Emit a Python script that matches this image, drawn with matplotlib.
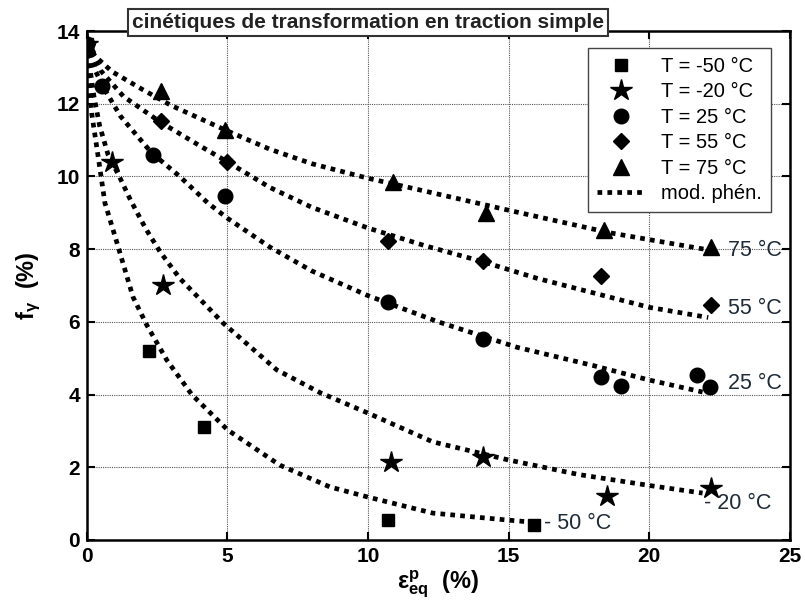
import matplotlib.pyplot as plt
import numpy as np

plt.rcParams['font.family'] = ['Liberation Sans', 'DejaVu Sans']
plt.rcParams['mathtext.default'] = 'regular'

# measured points (eps_eq in %, f_gamma in %)
x_m50 = [0, 2.2, 4.15, 10.7, 15.9]
y_m50 = [13.65, 5.2, 3.1, 0.55, 0.41]
x_m20 = [0, 0.9, 2.7, 10.8, 14.1, 18.5, 22.2]
y_m20 = [13.65, 10.4, 7.0, 2.15, 2.28, 1.2, 1.43]
x_25 = [0, 0.55, 2.35, 4.9, 10.7, 14.1, 18.3, 19.0, 21.7, 22.15]
y_25 = [13.65, 12.5, 10.6, 9.47, 6.55, 5.53, 4.48, 4.24, 4.54, 4.2]
x_55 = [0, 2.63, 4.98, 10.7, 14.1, 18.3, 22.2]
y_55 = [13.65, 11.52, 10.4, 8.22, 7.67, 7.26, 6.46]
x_75 = [0, 2.63, 4.9, 10.9, 14.2, 18.4, 22.2]
y_75 = [13.65, 12.35, 11.28, 9.85, 8.99, 8.53, 8.06]

# phenomenological model curves
mx_m50 = [0, 0.05, 0.17, 0.4, 0.64, 1.07, 1.64, 2.13, 2.84, 3.73, 5.0, 6.86, 8.64, 10.0, 12.3, 14.94, 15.7]
my_m50 = [13.65, 12.8, 11.73, 10.54, 9.27, 8.17, 6.68, 5.91, 4.95, 4.0, 3.03, 2.06, 1.46, 1.18, 0.74, 0.55, 0.5]
mx_m20 = [0, 0.1, 0.25, 0.45, 0.75, 1.15, 1.55, 2.1, 2.6, 3.3, 4.84, 6.75, 8.3, 10.0, 12.3, 15.0, 17.5, 20.0, 21.9]
my_m20 = [13.65, 13.0, 12.2, 11.4, 10.6, 10.0, 9.35, 8.55, 7.93, 7.2, 5.97, 4.68, 4.05, 3.49, 2.7, 2.2, 1.8, 1.5, 1.29]
mx_25 = [0, 0.3, 0.7, 1.2, 2.3, 3.3, 4.3, 5.0, 6.5, 8.0, 10.0, 12.5, 15.3, 18.0, 20.0, 21.9]
my_25 = [13.65, 12.9, 12.3, 11.65, 10.65, 10.0, 9.27, 8.85, 8.06, 7.4, 6.72, 6.0, 5.3, 4.8, 4.4, 4.07]
mx_55 = [0, 0.5, 1.3, 2.6, 4.0, 5.0, 6.5, 8.0, 10.0, 12.0, 14.1, 16.0, 18.0, 20.0, 22.1]
my_55 = [13.65, 12.9, 12.2, 11.5, 10.85, 10.4, 9.7, 9.15, 8.58, 8.1, 7.65, 7.2, 6.8, 6.4, 6.12]
mx_75 = [0, 0.3, 0.9, 2.0, 3.0, 4.0, 5.0, 6.5, 8.0, 10.0, 12.0, 15.0, 18.6, 22.1]
my_75 = [13.65, 13.3, 12.88, 12.38, 11.95, 11.6, 11.25, 10.75, 10.35, 9.95, 9.6, 9.07, 8.45, 7.98]

legend_labels = ['T = -50 °C', 'T = -20 °C', 'T = 25 °C', 'T = 55 °C', 'T = 75 °C', 'mod. phén.']
curve_labels = ['- 50 °C', '- 20 °C', '25 °C', '55 °C', '75 °C']
label_pos = [(16.25, 0.44), (21.95, 1.0), (22.8, 4.3), (22.8, 6.38), (22.8, 7.97)]

fig = plt.figure(figsize=(8.05, 6.02), dpi=100)
ax = fig.add_axes([0.108, 0.103, 0.873, 0.8455])

dot = dict(color='black', lw=3.4, linestyle=(0, (1, 1.1)), dash_capstyle='butt')
for mx, my in [(mx_m50, my_m50), (mx_m20, my_m20), (mx_25, my_25), (mx_55, my_55), (mx_75, my_75)]:
    ax.plot(mx, my, zorder=2, **dot)

ax.plot(x_m50, y_m50, 's', color='black', ms=9, ls='none', zorder=3, label=legend_labels[0])
ax.plot(x_m20, y_m20, '*', color='black', ms=16, ls='none', zorder=4, label=legend_labels[1])
ax.plot(x_25, y_25, 'o', color='black', ms=10.5, ls='none', zorder=3, label=legend_labels[2])
ax.plot(x_55, y_55, 'D', color='black', ms=8.5, ls='none', zorder=3, label=legend_labels[3])
ax.plot(x_75, y_75, '^', color='black', ms=12, ls='none', zorder=3, label=legend_labels[4])
ax.plot([], [], label=legend_labels[5], **dot)

for txt, (tx, ty) in zip(curve_labels, label_pos):
    ax.text(tx, ty, txt, fontsize=15.5, color='#1e2a36', va='center', ha='left')

ax.set_xlim(0, 25)
ax.set_ylim(0, 14)
ax.set_xticks(np.arange(0, 26, 5))
ax.set_yticks(np.arange(0, 15, 2))
ax.grid(True, color='#555555', linestyle=(0, (1, 1)), lw=0.8)
ax.set_axisbelow(True)
ax.tick_params(direction='in', length=6, width=1.5, top=True, right=True,
               labelsize=15, pad=5)
for lab in ax.get_xticklabels() + ax.get_yticklabels():
    lab.set_fontweight('bold')
for sp in ax.spines.values():
    sp.set_linewidth(1.8)

ax.set_xlabel(r'$\varepsilon^{p}_{eq}$  (%)', fontsize=17, fontweight='bold', labelpad=2)
ax.set_ylabel(r'$f_{\gamma}$  (%)', fontsize=17, fontweight='bold', labelpad=10)

leg = ax.legend(loc='upper right', bbox_to_anchor=(0.974, 0.967), borderaxespad=0,
                fancybox=False, edgecolor='#444444', fontsize=14.5, handlelength=2.4,
                handletextpad=0.8, labelspacing=0.32, borderpad=0.45, framealpha=1)
leg.get_frame().set_linewidth(1.0)

fig.text(0.457, 0.963, 'cinétiques de transformation en traction simple', fontsize=15,
         fontweight='bold', ha='center', va='center', color='#222222',
         bbox=dict(boxstyle='square,pad=0.2', facecolor='white', edgecolor='#333333', lw=1.5))

fig.savefig('out.png', dpi=100)
